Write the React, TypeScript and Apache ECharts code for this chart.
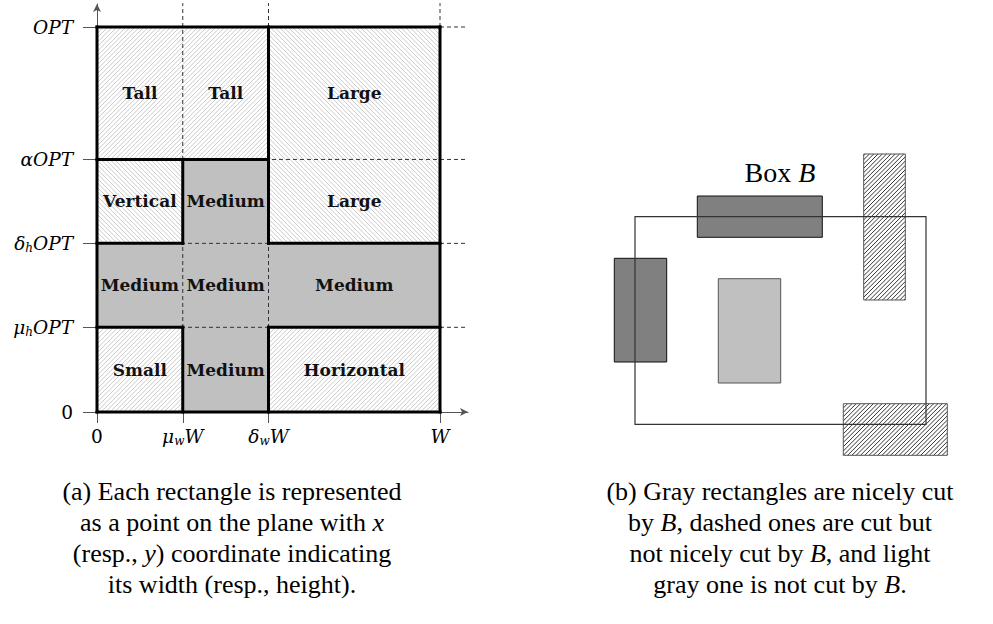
import React, { useEffect, useRef } from 'react';
import * as echarts from 'echarts';

// ---- Panel (a): thresholds (fractions of W and OPT) ----
const MU_W = 0.25;
const DELTA_W = 0.5;
const W_VAL = 1;
const MU_H = 0.22;
const DELTA_H = 0.438;
const ALPHA = 0.656;
const OPT_VAL = 1;

const xTickValues = [0, MU_W, DELTA_W, W_VAL];
const xTickLabels = ['{r|0}', '{i|μ}{s|w}{i|W}', '{i|δ}{s|w}{i|W}', '{i|W}'];
const yTickValues = [0, MU_H, DELTA_H, ALPHA, OPT_VAL];
const yTickLabels = ['{r|0}', '{i|μ}{s|h}{i|OPT}', '{i|δ}{s|h}{i|OPT}', '{i|αOPT}', '{i|OPT}'];

// regions [x0, y0, x1, y1]
const regionBounds = [
  [0, ALPHA, DELTA_W, OPT_VAL],
  [DELTA_W, DELTA_H, W_VAL, OPT_VAL],
  [0, DELTA_H, MU_W, ALPHA],
  [MU_W, 0, DELTA_W, ALPHA],
  [0, MU_H, W_VAL, DELTA_H],
  [0, 0, MU_W, MU_H],
  [DELTA_W, 0, W_VAL, MU_H],
];
const regionKinds = ['ne', 'nw', 'nw', 'gray', 'gray', 'ne', 'ne'];

// cell labels
const cellLabelText = [
  'Tall', 'Tall', 'Large',
  'Vertical', 'Medium', 'Large',
  'Medium', 'Medium', 'Medium',
  'Small', 'Medium', 'Horizontal',
];
const colCenters = [MU_W / 2, (MU_W + DELTA_W) / 2, (DELTA_W + W_VAL) / 2];
const rowCenters = [(ALPHA + OPT_VAL) / 2, (DELTA_H + ALPHA) / 2, (MU_H + DELTA_H) / 2, MU_H / 2];

// dashed guide lines
const dashedYLevels = [MU_H, DELTA_H, ALPHA, OPT_VAL];
const dashedXLevels = [MU_W, DELTA_W, W_VAL];
const DASH_X_END = 1.073;
const DASH_Y_END = 1.062;

// thick boundaries [x0, y0, x1, y1]
const thickSegments = [
  [0, 0, W_VAL, 0],
  [0, OPT_VAL, W_VAL, OPT_VAL],
  [0, 0, 0, OPT_VAL],
  [W_VAL, 0, W_VAL, OPT_VAL],
  [0, ALPHA, DELTA_W, ALPHA],
  [0, DELTA_H, MU_W, DELTA_H],
  [DELTA_W, DELTA_H, W_VAL, DELTA_H],
  [0, MU_H, MU_W, MU_H],
  [DELTA_W, MU_H, W_VAL, MU_H],
  [MU_W, 0, MU_W, MU_H],
  [MU_W, DELTA_H, MU_W, ALPHA],
  [DELTA_W, 0, DELTA_W, MU_H],
  [DELTA_W, DELTA_H, DELTA_W, OPT_VAL],
];

// ---- Panel (b): rectangles [x0, y0, x1, y1] ----
const boxB = [4.5, 4.57, 33.6, 25.33];
const boxLabelPos = [19.0, 29.8];
const panelRects = [
  [10.73, 23.27, 23.23, 27.4],
  [2.43, 10.8, 7.67, 21.17],
  [12.83, 8.7, 19.07, 19.13],
  [27.37, 17.0, 31.53, 31.6],
  [25.33, 1.47, 35.73, 6.63],
];
const panelKinds = ['dark', 'dark', 'light', 'hatch', 'hatch'];

// ---- captions ----
const captionA = [
  '{n|(a) Each rectangle is represented}',
  '{n|as a point on the plane with }{i|x}',
  '{n|(resp., }{i|y}{n|) coordinate indicating}',
  '{n|its width (resp., height).}',
];
const captionB = [
  '{n|(b) Gray rectangles are nicely cut}',
  '{n|by }{i|B}{n|, dashed ones are cut but}',
  '{n|not nicely cut by }{i|B}{n|, and light}',
  '{n|gray one is not cut by }{i|B}{n|.}',
];

function hatchLines(left: number, top: number, right: number, bottom: number, dir: string, s: number, style: any) {
  const out: any[] = [];
  if (dir === 'ne') {
    const cStart = Math.ceil((left + top) / s) * s;
    for (let c = cStart; c <= right + bottom; c += s) {
      const ya = Math.max(top, c - right);
      const yb = Math.min(bottom, c - left);
      if (yb - ya > 0.01) out.push({ type: 'line', silent: true, shape: { x1: c - ya, y1: ya, x2: c - yb, y2: yb }, style });
    }
  } else {
    const cStart = Math.ceil((left - bottom) / s) * s;
    for (let c = cStart; c <= right - top; c += s) {
      const ya = Math.max(top, left - c);
      const yb = Math.min(bottom, right - c);
      if (yb - ya > 0.01) out.push({ type: 'line', silent: true, shape: { x1: c + ya, y1: ya, x2: c + yb, y2: yb }, style });
    }
  }
  return out;
}

function rectPx(api: any) {
  const p0 = api.coord([api.value(0), api.value(1)]);
  const p1 = api.coord([api.value(2), api.value(3)]);
  return {
    left: Math.min(p0[0], p1[0]),
    right: Math.max(p0[0], p1[0]),
    top: Math.min(p0[1], p1[1]),
    bottom: Math.max(p0[1], p1[1]),
  };
}

const labelRich = {
  i: { fontFamily: 'DejaVu Serif', fontStyle: 'italic', fontSize: 18.5, lineHeight: 22, color: '#000' },
  s: { fontFamily: 'DejaVu Serif', fontStyle: 'italic', fontSize: 12, lineHeight: 12, verticalAlign: 'bottom', color: '#000' },
  r: { fontFamily: 'DejaVu Serif', fontSize: 18.5, lineHeight: 22, color: '#000' },
};

const CAP_SIZE = 26;
const capRich = {
  n: { fontFamily: 'Liberation Serif', fontSize: CAP_SIZE, color: '#000' },
  i: { fontFamily: 'Liberation Serif', fontStyle: 'italic', fontSize: CAP_SIZE, color: '#000' },
};

function captionGraphics(lines: string[], cx: number, y0: number, dy: number) {
  return lines.map((t, k) => ({
    type: 'text',
    x: cx,
    y: y0 + k * dy,
    silent: true,
    style: {
      text: t,
      rich: capRich,
      align: 'center',
      textAlign: 'center',
      verticalAlign: 'middle',
      textVerticalAlign: 'middle',
      fill: '#000',
    },
  }));
}

function buildOption(): any {
  const cellData: number[][] = [];
  cellLabelText.forEach((_, k) => {
    cellData.push([colCenters[k % 3], rowCenters[Math.floor(k / 3)]]);
  });

  return {
    animation: false,
    backgroundColor: '#fff',
    grid: [
      { left: 97, top: 4, width: 371, height: 408 },
      { left: 590, top: 140, width: 370, height: 330 },
    ],
    xAxis: [
      {
        gridIndex: 0,
        type: 'value',
        min: 0,
        max: 371 / 343,
        axisLine: { show: true, symbol: ['none', 'arrow'], symbolSize: [6, 8], lineStyle: { color: '#555', width: 1 } },
        axisTick: { show: true, customValues: xTickValues, length: 11, lineStyle: { color: '#555', width: 1 } },
        axisLabel: {
          show: true,
          customValues: xTickValues,
          margin: 13,
          formatter: (v: number) => {
            const i = xTickValues.findIndex((t) => Math.abs(t - v) < 1e-6);
            return i >= 0 ? xTickLabels[i] : '';
          },
          rich: labelRich,
        },
        splitLine: { show: false },
      },
      { gridIndex: 1, type: 'value', min: 0, max: 37, show: false },
    ],
    yAxis: [
      {
        gridIndex: 0,
        type: 'value',
        min: 0,
        max: 408 / 385,
        axisLine: { show: true, symbol: ['none', 'arrow'], symbolSize: [6, 8], lineStyle: { color: '#555', width: 1 } },
        axisTick: { show: true, customValues: yTickValues, length: 14, lineStyle: { color: '#555', width: 1 } },
        axisLabel: {
          show: true,
          customValues: yTickValues,
          margin: 24,
          formatter: (v: number) => {
            const i = yTickValues.findIndex((t) => Math.abs(t - v) < 1e-6);
            return i >= 0 ? yTickLabels[i] : '';
          },
          rich: labelRich,
        },
        splitLine: { show: false },
      },
      { gridIndex: 1, type: 'value', min: 0, max: 33, show: false },
    ],
    series: [
      {
        type: 'custom',
        name: 'regions',
        xAxisIndex: 0,
        yAxisIndex: 0,
        z: 1,
        silent: true,
        data: regionBounds,
        encode: { x: [0, 2], y: [1, 3] },
        renderItem: (params: any, api: any) => {
          const r = rectPx(api);
          const kind = regionKinds[params.dataIndex];
          const children: any[] = [
            {
              type: 'rect',
              shape: { x: r.left, y: r.top, width: r.right - r.left, height: r.bottom - r.top },
              style: { fill: kind === 'gray' ? '#c0c0c0' : '#fff', stroke: 'none' },
            },
          ];
          if (kind !== 'gray') {
            children.push(...hatchLines(r.left, r.top, r.right, r.bottom, kind, 4.5, { stroke: '#b4b4b4', lineWidth: 0.7 }));
          }
          return { type: 'group', children };
        },
      },
      {
        type: 'custom',
        name: 'dashedH',
        xAxisIndex: 0,
        yAxisIndex: 0,
        z: 2,
        silent: true,
        data: dashedYLevels.map((y) => [0, y, DASH_X_END, y]),
        encode: { x: [0, 2], y: [1, 3] },
        renderItem: (params: any, api: any) => {
          const a = api.coord([api.value(0), api.value(1)]);
          const b = api.coord([api.value(2), api.value(3)]);
          return { type: 'line', shape: { x1: a[0], y1: a[1], x2: b[0], y2: b[1] }, style: { stroke: '#333', lineWidth: 1, lineDash: [4, 3] } };
        },
      },
      {
        type: 'custom',
        name: 'dashedV',
        xAxisIndex: 0,
        yAxisIndex: 0,
        z: 2,
        silent: true,
        data: dashedXLevels.map((x) => [x, 0, x, DASH_Y_END]),
        encode: { x: [0, 2], y: [1, 3] },
        renderItem: (params: any, api: any) => {
          const a = api.coord([api.value(0), api.value(1)]);
          const b = api.coord([api.value(2), api.value(3)]);
          return { type: 'line', shape: { x1: a[0], y1: a[1], x2: b[0], y2: b[1] }, style: { stroke: '#333', lineWidth: 1, lineDash: [4, 3] } };
        },
      },
      {
        type: 'custom',
        name: 'thick',
        xAxisIndex: 0,
        yAxisIndex: 0,
        z: 3,
        silent: true,
        data: thickSegments,
        encode: { x: [0, 2], y: [1, 3] },
        renderItem: (params: any, api: any) => {
          const a = api.coord([api.value(0), api.value(1)]);
          const b = api.coord([api.value(2), api.value(3)]);
          return { type: 'line', shape: { x1: a[0], y1: a[1], x2: b[0], y2: b[1] }, style: { stroke: '#000', lineWidth: 3, lineCap: 'square' } };
        },
      },
      {
        type: 'custom',
        name: 'cellLabels',
        xAxisIndex: 0,
        yAxisIndex: 0,
        z: 4,
        silent: true,
        data: cellData,
        renderItem: (params: any, api: any) => {
          const p = api.coord([api.value(0), api.value(1)]);
          return {
            type: 'text',
            x: p[0],
            y: p[1],
            style: {
              text: cellLabelText[params.dataIndex],
              fontFamily: 'DejaVu Serif',
              fontWeight: 'bold',
              fontSize: 17,
              fill: '#111',
              align: 'center',
              verticalAlign: 'middle',
            },
          };
        },
      },
      {
        type: 'custom',
        name: 'panelRects',
        xAxisIndex: 1,
        yAxisIndex: 1,
        z: 1,
        silent: true,
        data: panelRects,
        encode: { x: [0, 2], y: [1, 3] },
        renderItem: (params: any, api: any) => {
          const r = rectPx(api);
          const kind = panelKinds[params.dataIndex];
          const fill = kind === 'dark' ? '#808080' : kind === 'light' ? '#c0c0c0' : '#fff';
          const stroke = kind === 'dark' ? '#111' : '#555';
          const children: any[] = [
            {
              type: 'rect',
              shape: { x: r.left, y: r.top, width: r.right - r.left, height: r.bottom - r.top },
              style: { fill, stroke: 'none' },
            },
          ];
          if (kind === 'hatch') {
            children.push(...hatchLines(r.left, r.top, r.right, r.bottom, 'ne', 4.3, { stroke: '#000', lineWidth: 0.8 }));
          }
          children.push({
            type: 'rect',
            shape: { x: r.left, y: r.top, width: r.right - r.left, height: r.bottom - r.top },
            style: { fill: 'none', stroke, lineWidth: 1 },
          });
          return { type: 'group', children };
        },
      },
      {
        type: 'custom',
        name: 'boxB',
        xAxisIndex: 1,
        yAxisIndex: 1,
        z: 5,
        silent: true,
        data: [[...boxB, ...boxLabelPos]],
        encode: { x: [0, 2], y: [1, 3] },
        renderItem: (params: any, api: any) => {
          const r = rectPx(api);
          const lp = api.coord([api.value(4), api.value(5)]);
          return {
            type: 'group',
            children: [
              {
                type: 'rect',
                shape: { x: r.left, y: r.top, width: r.right - r.left, height: r.bottom - r.top },
                style: { fill: 'none', stroke: '#333', lineWidth: 1.2 },
              },
              {
                type: 'text',
                x: lp[0],
                y: lp[1],
                style: {
                  text: '{n|Box }{i|B}',
                  rich: {
                    n: { fontFamily: 'Liberation Serif', fontSize: 28, color: '#000' },
                    i: { fontFamily: 'Liberation Serif', fontStyle: 'italic', fontSize: 28, color: '#000' },
                  },
                  align: 'center',
                  verticalAlign: 'middle',
                },
              },
            ],
          };
        },
      },
    ],
    graphic: [...captionGraphics(captionA, 232, 491, 31), ...captionGraphics(captionB, 780, 491, 31)],
  };
}

export default function App() {
  const ref = useRef<HTMLDivElement>(null);
  useEffect(() => {
    if (!ref.current) return;
    const chart = echarts.init(ref.current, null, { renderer: 'svg' });
    chart.setOption(buildOption());
    return () => chart.dispose();
  }, []);
  return <div ref={ref} style={{ position: 'fixed', left: 0, top: 0, width: 993, height: 624 }} />;
}
